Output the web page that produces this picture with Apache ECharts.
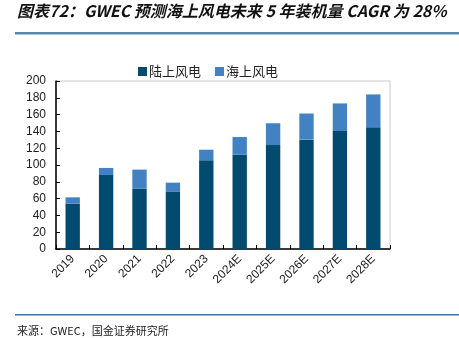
<!DOCTYPE html>
<html>
<head>
<meta charset="utf-8">
<script src="https://cdn.jsdelivr.net/npm/echarts@6/dist/echarts.min.js"></script>
<style>
html,body{margin:0;padding:0;background:#fff;}
#chart{width:459px;height:338px;}
</style>
</head>
<body>
<div id="chart"></div>
<script>
// Installed capacity (GW), onshore and offshore, stacked per year
const years = ['2019','2020','2021','2022','2023','2024E','2025E','2026E','2027E','2028E'];
const onshore = [54, 88, 72, 68.6, 105.7, 112.6, 123.7, 130.2, 140.5, 145];
const offshore = [7.5, 8.5, 22.5, 10.4, 12.5, 20.7, 26, 31.1, 32.8, 39];
const yTicks = { min: 0, max: 200, interval: 20 };

const titleText = '图表72：GWEC 预测海上风电未来 5 年装机量 CAGR 为 28%';
const sourceText = '来源：GWEC，国金证券研究所';

const chart = echarts.init(document.getElementById('chart'));
const cjk = '"Noto Sans CJK SC", sans-serif';
const latin = '"Liberation Sans", Arial, sans-serif';

chart.setOption({
  animation: false,
  backgroundColor: '#fff',
  graphic: [
    { type: 'text', left: 17, top: 3,
      style: { text: titleText, font: 'italic bold 16px ' + cjk, fill: '#111' } },
    { type: 'rect', shape: { x: 15, y: 32, width: 444, height: 2.5 },
      style: { fill: '#5b87a8' } },
    { type: 'rect', shape: { x: 15, y: 314, width: 444, height: 1.5 },
      style: { fill: '#3f77a0' } },
    { type: 'text', left: 17, top: 325,
      style: { text: sourceText, font: '11px ' + cjk, fill: '#222' } }
  ],
  legend: {
    top: 60, left: 133,
    itemWidth: 9, itemHeight: 9, itemGap: 14,
    icon: 'rect',
    textStyle: { fontFamily: cjk, fontSize: 13, color: '#222', padding: [0, 0, 0, -3] },
    data: ['陆上风电', '海上风电']
  },
  grid: {
    left: 56, right: 69, top: 81, bottom: 89,
    show: true, borderColor: '#c8c8c8', borderWidth: 1
  },
  xAxis: {
    type: 'category',
    data: years,
    axisLine: { lineStyle: { color: '#000', width: 1.5 } },
    axisTick: { show: true, inside: true, length: 4, lineStyle: { color: '#000' } },
    axisLabel: {
      rotate: 45, interval: 0, margin: 8,
      fontFamily: latin, fontSize: 12, color: '#222'
    }
  },
  yAxis: {
    type: 'value',
    min: yTicks.min, max: yTicks.max, interval: yTicks.interval,
    splitLine: { show: false },
    axisLine: { show: true, lineStyle: { color: '#000', width: 1.5 } },
    axisTick: { show: true, inside: true, length: 4, lineStyle: { color: '#000' } },
    axisLabel: { fontFamily: latin, fontSize: 12, color: '#222', margin: 10 }
  },
  series: [
    {
      name: '陆上风电', type: 'bar', stack: 'total',
      data: onshore, barWidth: '43%',
      itemStyle: { color: '#024a70' }
    },
    {
      name: '海上风电', type: 'bar', stack: 'total',
      data: offshore, barWidth: '43%',
      itemStyle: { color: '#4382c2' }
    }
  ]
});
</script>
</body>
</html>
